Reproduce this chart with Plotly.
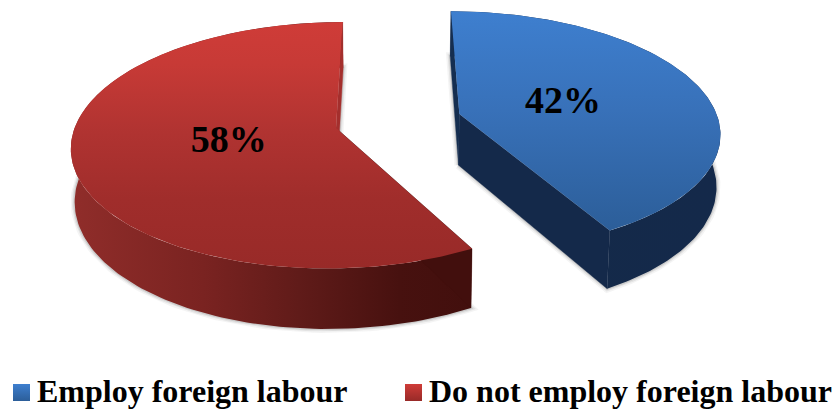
import numpy as np
import plotly.graph_objects as go

# Survey shares, in percent, clockwise from twelve o'clock
categories = ["Employ foreign labour", "Do not employ foreign labour"]
shares = [42, 58]

# Perspective camera for the tilted pie, in page pixels
WIDTH, HEIGHT = 838, 410
VX, VY = 390.0, 128.0
KEEP = 0.14            # foreshortening with depth
RX, RY = 261.4, 120.8  # disc radii on the picture plane
THICK = 52.0           # wall height
BASE_SHRINK = 0.988
EXPLODE = [(70.5, 0.118), (-54.0, 0.0)]  # slice pull-out (x px, depth)
LABEL_RADIUS = 0.42
LABEL_DROP = 2.0
LABEL_NUDGE = 1.5

TOP_RAMP = [
    [[0, "#3E7FCF"], [0.45, "#3871B9"], [1, "#2C5E99"]],
    [[0, "#CF3C38"], [0.17, "#C73A36"], [0.45, "#B03331"], [0.72, "#A02D2B"], [1, "#982A28"]],
]
WALL_RAMP = [
    [[0, "#142A49"], [1, "#14294A"]],
    [[0, "#902D2A"], [0.33, "#7A2321"], [0.57, "#601B19"], [0.82, "#47110F"], [1, "#420F0D"]],
]
BACK_CUT = ["#152E50", "#A42F2D"]   # cut face at the slice's far edge
FRONT_CUT = ["#14294A", "#420F0D"]  # cut face running toward the viewer
SWATCH_RAMP = [
    [[0, "#3E7FCF"], [1, "#2C5E99"]],
    [[0, "#CF3C38"], [1, "#982A28"]],
]


def project(dx, depth, lower=False):
    s = 1.0 / (1.0 + KEEP * depth)
    px = VX + dx * s
    py = VY - RY * depth * s
    if lower:
        px = VX + (px - VX) * BASE_SHRINK
        py = py + THICK * s
    return px, py


def disc_point(offset, theta, radius=1.0, lower=False):
    return project(offset[0] + RX * radius * np.sin(theta),
                   offset[1] + radius * np.cos(theta), lower)


def close(points):
    xs = [p[0] for p in points] + [points[0][0]]
    ys = [p[1] for p in points] + [points[0][1]]
    return xs, ys


def polygon(points, **style):
    xs, ys = close(points)
    return go.Scatter(x=xs, y=ys, mode="lines", fill="toself", hoverinfo="skip",
                      showlegend=False, **style)


def ramp_style(ramp, kind, start, stop):
    return dict(
        fillgradient=dict(type=kind, colorscale=ramp, start=start, stop=stop),
        line=dict(width=0),
    )


fig = go.Figure()
labels = []
start = 0.0
slices = []
for i, share in enumerate(shares):
    sweep = np.deg2rad(share * 3.6)
    thetas = np.linspace(start, start + sweep, 160)
    slices.append((i, EXPLODE[i], thetas))
    mid = start + sweep / 2
    labels.append(disc_point(EXPLODE[i], mid, LABEL_RADIUS))
    start += sweep

# Soft contact shadow around each base
for i, offset, thetas in slices:
    base = [project(*offset, lower=True)] + [disc_point(offset, t, lower=True) for t in thetas]
    for width, alpha in ((8, 0.06), (5, 0.09), (2.5, 0.14)):
        fig.add_trace(polygon(base, line=dict(color=f"rgba(60,60,60,{alpha})", width=width),
                              fillcolor="rgba(0,0,0,0)"))

for i, offset, thetas in slices:
    apex_top = project(*offset)
    apex_low = project(*offset, lower=True)
    rim_top = [disc_point(offset, t) for t in thetas]
    rim_low = [disc_point(offset, t, lower=True) for t in thetas]

    # Curved outer wall, darkening left to right
    wall_x = [p[0] for p in rim_top + rim_low]
    fig.add_trace(polygon(rim_top + rim_low[::-1],
                          **ramp_style(WALL_RAMP[i], "horizontal", min(wall_x), max(wall_x))))

    # Flat cut faces of the slice; the far one differs per slice direction
    far, near = (0, -1) if i == 0 else (-1, 0)
    fig.add_trace(polygon([apex_top, rim_top[near], rim_low[near], apex_low],
                          fillcolor=FRONT_CUT[i], line=dict(color=FRONT_CUT[i], width=0.4)))
    fig.add_trace(polygon([apex_top, rim_top[far], rim_low[far], apex_low],
                          fillcolor=BACK_CUT[i], line=dict(color=BACK_CUT[i], width=0.4)))

    # Top face, darkening toward the viewer
    top_y = [p[1] for p in rim_top]
    fig.add_trace(polygon([apex_top] + rim_top,
                          **ramp_style(TOP_RAMP[i], "vertical", min(top_y), max(top_y))))

# Percentage labels
fig.add_trace(go.Scatter(
    x=[p[0] + LABEL_NUDGE for p in labels], y=[p[1] + LABEL_DROP for p in labels], mode="text",
    text=[f"<b>{v}%</b>" for v in shares], textposition="middle center",
    textfont=dict(family="Liberation Serif", size=38, color="#000000"),
    hoverinfo="skip", showlegend=False,
))

# Key along the bottom edge
SWATCH_LEFT = [13, 405]
SWATCH_SIZE = 17
SWATCH_TOP = 384
for i, name in enumerate(categories):
    x0 = SWATCH_LEFT[i]
    box = [(x0, SWATCH_TOP), (x0 + SWATCH_SIZE, SWATCH_TOP),
           (x0 + SWATCH_SIZE, SWATCH_TOP + SWATCH_SIZE), (x0, SWATCH_TOP + SWATCH_SIZE)]
    fig.add_trace(polygon(box, **ramp_style(SWATCH_RAMP[i], "vertical", SWATCH_TOP,
                                            SWATCH_TOP + SWATCH_SIZE)))
    fig.add_annotation(x=x0 + SWATCH_SIZE + 5, y=391, text=f"<b>{name}</b>", showarrow=False,
                       xanchor="left", yanchor="middle", xref="x", yref="y",
                       font=dict(family="Liberation Serif", size=32, color="#000000"))

fig.update_layout(
    width=WIDTH, height=HEIGHT, margin=dict(l=0, r=0, t=0, b=0),
    paper_bgcolor="#FFFFFF", plot_bgcolor="#FFFFFF", showlegend=False,
    xaxis=dict(range=[0, WIDTH], visible=False, fixedrange=True),
    yaxis=dict(range=[HEIGHT, 0], visible=False, fixedrange=True),
)
fig.write_html("out.html", config={"displayModeBar": False})
